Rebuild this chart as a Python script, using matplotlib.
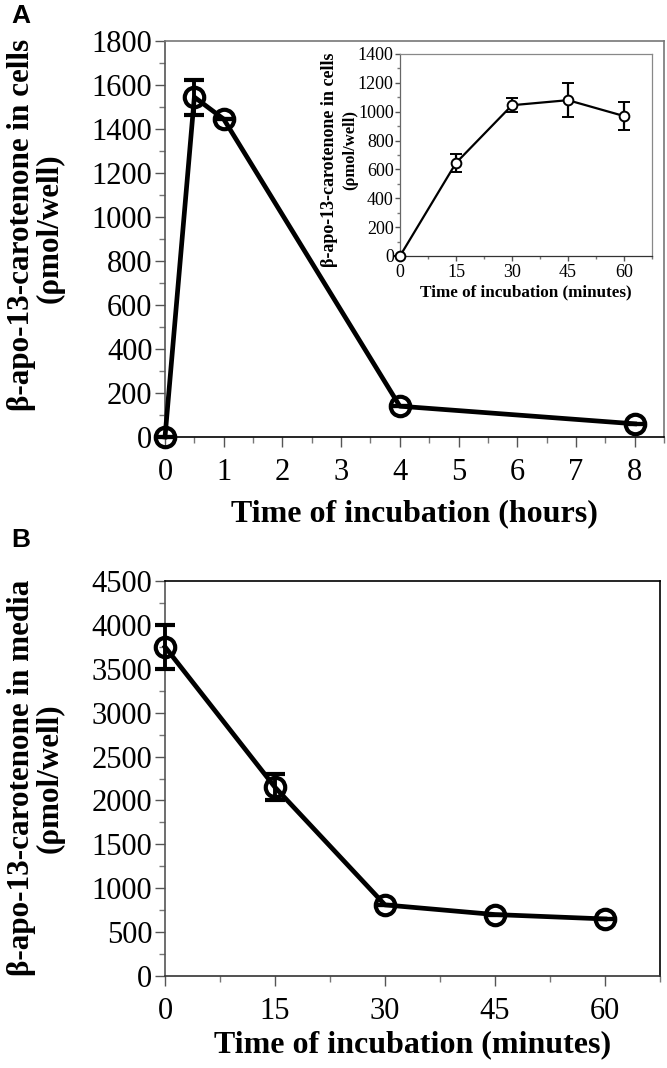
import matplotlib
matplotlib.use("Agg")
import matplotlib.pyplot as plt
from matplotlib.ticker import MultipleLocator

# ---------------- data ----------------
hours = [0, 0.5, 1, 4, 8]
cells_hours = [0, 1545, 1445, 140, 60]
cells_hours_err = [0, 80, 0, 0, 0]

inset_min = [0, 15, 30, 45, 60]
cells_min = [0, 645, 1045, 1080, 970]
cells_min_err = [0, 65, 50, 120, 100]

media_min = [0, 15, 30, 45, 60]
media_vals = [3750, 2150, 810, 700, 650]
media_err = [250, 150, 0, 0, 0]

SERIF = ["Liberation Serif", "DejaVu Serif"]
plt.rcParams["font.family"] = SERIF

W, H = 667, 1068
fig = plt.figure(figsize=(W / 100, H / 100), dpi=100)


def ax_rect(l, t, r, b):
    return [l / W, 1 - b / H, (r - l) / W, (b - t) / H]


def vtext(x, y, s, size):
    fig.text(x / W, 1 - y / H, s, rotation=90, ha="center", va="center",
             fontsize=size, fontweight="bold", family=SERIF)


def style_axes(ax, fs, major_len, minor_len, lw_spine, spine_cols, xpad, ypad):
    for side, c in spine_cols.items():
        ax.spines[side].set_color(c)
        ax.spines[side].set_linewidth(lw_spine)
    ax.tick_params(which="major", direction="out", length=major_len, width=1,
                   labelsize=fs, color="#555555")
    ax.tick_params(which="minor", direction="out", length=minor_len, width=1,
                   color="#777777")
    ax.tick_params(axis="x", which="major", pad=xpad)
    ax.tick_params(axis="y", which="major", pad=ypad)
    ax.tick_params(axis="x", which="both", top=False)
    ax.tick_params(axis="y", which="both", right=False)


# ---------------- Panel A ----------------
axA = fig.add_axes(ax_rect(165, 41, 664, 437))
axA.errorbar(hours, cells_hours, yerr=cells_hours_err, color="black", lw=3.4,
             marker="o", ms=14, mfc="none", mec="black", mew=3.0,
             capsize=7.5, capthick=2.8, elinewidth=2.8, clip_on=False, zorder=3)
axA.set_xlim(0, 8.5)
axA.set_ylim(0, 1800)
axA.xaxis.set_major_locator(MultipleLocator(1))
axA.xaxis.set_minor_locator(MultipleLocator(0.5))
axA.yaxis.set_major_locator(MultipleLocator(200))
axA.yaxis.set_minor_locator(MultipleLocator(100))
style_axes(axA, 22, 7, 4, 1.2,
           {"left": "#555555", "bottom": "black", "top": "#777777", "right": "#777777"},
           xpad=8, ypad=2)
axA.set_xlabel("Time of incubation (hours)", fontsize=23, fontweight="bold", labelpad=9)
vtext(22, 225, "β-apo-13-carotenone in cells", 22.4)
vtext(50, 228, "(ρmol/well)", 22.4)
fig.text(11 / W, 1 - 16 / H, "A", fontsize=19, fontweight="bold",
         family=["Liberation Sans", "DejaVu Sans"], va="center", ha="left")

# ---------------- Inset ----------------
axI = fig.add_axes(ax_rect(400, 54, 652, 256))
axI.errorbar(inset_min, cells_min, yerr=cells_min_err, color="black", lw=1.6,
             marker="o", ms=7, mfc="white", mec="black", mew=1.4,
             capsize=4.3, capthick=1.6, elinewidth=1.6, clip_on=False, zorder=3)
axI.set_xlim(0, 67.5)
axI.set_ylim(0, 1400)
axI.xaxis.set_major_locator(MultipleLocator(15))
axI.xaxis.set_minor_locator(MultipleLocator(7.5))
axI.yaxis.set_major_locator(MultipleLocator(200))
axI.yaxis.set_minor_locator(MultipleLocator(100))
style_axes(axI, 13, 3.5, 2, 0.9,
           {"left": "#666666", "bottom": "#333333", "top": "#888888", "right": "#888888"},
           xpad=2, ypad=1)
axI.set_xlabel("Time of incubation (minutes)", fontsize=12.3, fontweight="bold", labelpad=3)
vtext(329, 160, "β-apo-13-carotenone in cells", 13)
vtext(350, 150, "(ρmol/well)", 12)

# ---------------- Panel B ----------------
axB = fig.add_axes(ax_rect(165, 581, 660, 976))
axB.errorbar(media_min, media_vals, yerr=media_err, color="black", lw=3.4,
             marker="o", ms=14, mfc="none", mec="black", mew=3.0,
             capsize=7.5, capthick=2.8, elinewidth=2.8, clip_on=False, zorder=3)
axB.set_xlim(0, 67.5)
axB.set_ylim(0, 4500)
axB.xaxis.set_major_locator(MultipleLocator(15))
axB.xaxis.set_minor_locator(MultipleLocator(7.5))
axB.yaxis.set_major_locator(MultipleLocator(500))
axB.yaxis.set_minor_locator(MultipleLocator(250))
style_axes(axB, 22, 7, 4, 1.2,
           {"left": "#555555", "bottom": "#333333", "top": "black", "right": "black"},
           xpad=8, ypad=2)
axB.set_xlabel("Time of incubation (minutes)", fontsize=23, fontweight="bold", labelpad=3)
vtext(22, 778, "β-apo-13-carotenone in media", 22.4)
vtext(50, 778, "(ρmol/well)", 22.4)
fig.text(11 / W, 1 - 540 / H, "B", fontsize=19, fontweight="bold",
         family=["Liberation Sans", "DejaVu Sans"], va="center", ha="left")

fig.savefig("out.png", dpi=100)
